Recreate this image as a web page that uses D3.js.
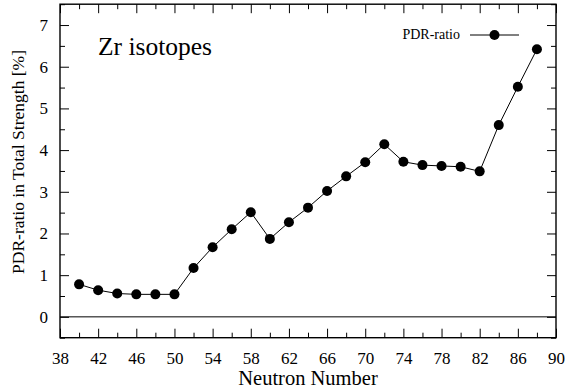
<!DOCTYPE html>
<html>
<head>
<meta charset="utf-8">
<script src="https://cdn.jsdelivr.net/npm/d3@7"></script>
<style>
  html, body { margin: 0; padding: 0; background: #fff; }
  svg { display: block; }
</style>
</head>
<body>
<svg id="chart" width="566" height="387"></svg>
<script>
// ---- data ----
const neutronNumbers = [40, 42, 44, 46, 48, 50, 52, 54, 56, 58, 60, 62, 64, 66, 68, 70, 72, 74, 76, 78, 80, 82, 84, 86, 88];
const pdrRatio = [0.78, 0.64, 0.56, 0.54, 0.54, 0.54, 1.17, 1.67, 2.10, 2.51, 1.87, 2.27, 2.62, 3.02, 3.37, 3.71, 4.14, 3.72, 3.64, 3.62, 3.60, 3.49, 4.60, 5.52, 6.42];
const xMajorTicks = [38, 42, 46, 50, 54, 58, 62, 66, 70, 74, 78, 82, 86, 90];
const xMinorTicks = [40, 44, 48, 52, 56, 60, 64, 68, 72, 76, 80, 84, 88];
const yMajorTicks = [0, 1, 2, 3, 4, 5, 6, 7];
const yMinorTicks = [-0.5, 0.5, 1.5, 2.5, 3.5, 4.5, 5.5, 6.5, 7.5];
const seriesName = "PDR-ratio";
const annotation = "Zr isotopes";
const xTitle = "Neutron Number";
const yTitle = "PDR-ratio in Total Strength [%]";

// ---- layout ----
const FONT = '"Liberation Serif"';
const L = 60, R = 556, T = 4.2, B = 337.7;
const svg = d3.select("#chart");
const x = d3.scaleLinear().domain([38, 90]).range([L, R]);
const y = d3.scaleLinear().domain([-0.5, 7.5]).range([B, T]);

function clean(g) {
  g.attr("font-family", null).style("font-family", FONT);
  g.select(".domain").remove();
  g.selectAll(".tick line").attr("stroke", "#000").attr("stroke-width", 1);
  g.selectAll(".tick text").attr("fill", "#000").style("font-family", FONT);
}

// bottom axis
svg.append("g").attr("transform", `translate(0,${B})`)
  .call(d3.axisBottom(x).tickValues(xMajorTicks).tickSize(-9).tickPadding(14).tickFormat(d3.format("d")))
  .call(clean)
  .call(g => g.selectAll("text").style("font-size", "17px").attr("y", 13.8).attr("dy", "0.71em"));
svg.append("g").attr("transform", `translate(0,${B})`)
  .call(d3.axisBottom(x).tickValues(xMinorTicks).tickSize(-5).tickFormat(""))
  .call(clean);
// top axis
svg.append("g").attr("transform", `translate(0,${T})`)
  .call(d3.axisTop(x).tickValues(xMajorTicks).tickSize(-9).tickFormat(""))
  .call(clean);
svg.append("g").attr("transform", `translate(0,${T})`)
  .call(d3.axisTop(x).tickValues(xMinorTicks).tickSize(-5).tickFormat(""))
  .call(clean);
// left axis
svg.append("g").attr("transform", `translate(${L},0)`)
  .call(d3.axisLeft(y).tickValues(yMajorTicks).tickSize(-9).tickPadding(12).tickFormat(d3.format("d")))
  .call(clean)
  .call(g => g.selectAll("text").style("font-size", "17px").attr("x", -12));
svg.append("g").attr("transform", `translate(${L},0)`)
  .call(d3.axisLeft(y).tickValues(yMinorTicks).tickSize(-5).tickFormat(""))
  .call(clean);
// right axis
svg.append("g").attr("transform", `translate(${R},0)`)
  .call(d3.axisRight(y).tickValues(yMajorTicks).tickSize(-9).tickFormat(""))
  .call(clean);
svg.append("g").attr("transform", `translate(${R},0)`)
  .call(d3.axisRight(y).tickValues(yMinorTicks).tickSize(-5).tickFormat(""))
  .call(clean);

// zero line
svg.append("line")
  .attr("x1", L).attr("x2", R).attr("y1", y(0)).attr("y2", y(0))
  .attr("stroke", "#000").attr("stroke-width", 1);

// frame
svg.append("rect")
  .attr("x", L).attr("y", T).attr("width", R - L).attr("height", B - T)
  .attr("fill", "none").attr("stroke", "#000").attr("stroke-width", 1.4);

// series
const pts = neutronNumbers.map((n, i) => [n, pdrRatio[i]]);
svg.append("path")
  .datum(pts)
  .attr("fill", "none").attr("stroke", "#000").attr("stroke-width", 1)
  .attr("d", d3.line().x(d => x(d[0])).y(d => y(d[1])));
svg.append("g").selectAll("circle").data(pts).join("circle")
  .attr("cx", d => x(d[0])).attr("cy", d => y(d[1])).attr("r", 5).attr("fill", "#000");

// legend
svg.append("text").attr("x", 460).attr("y", 39).attr("text-anchor", "end")
  .style("font-family", FONT).style("font-size", "14px").text(seriesName);
svg.append("line").attr("x1", 470).attr("x2", 519).attr("y1", 35).attr("y2", 35)
  .attr("stroke", "#000").attr("stroke-width", 1);
svg.append("circle").attr("cx", 494.5).attr("cy", 35).attr("r", 5).attr("fill", "#000");

// annotation
svg.append("text").attr("x", 98).attr("y", 55)
  .style("font-family", FONT).style("font-size", "25.5px").text(annotation);

// titles
svg.append("text").attr("x", (L + R) / 2).attr("y", 384.5).attr("text-anchor", "middle")
  .style("font-family", FONT).style("font-size", "20.5px").text(xTitle);
svg.append("text").attr("transform", "translate(24,162) rotate(-90)")
  .attr("text-anchor", "middle").style("font-family", FONT).style("font-size", "17.5px").text(yTitle);
</script>
</body>
</html>
